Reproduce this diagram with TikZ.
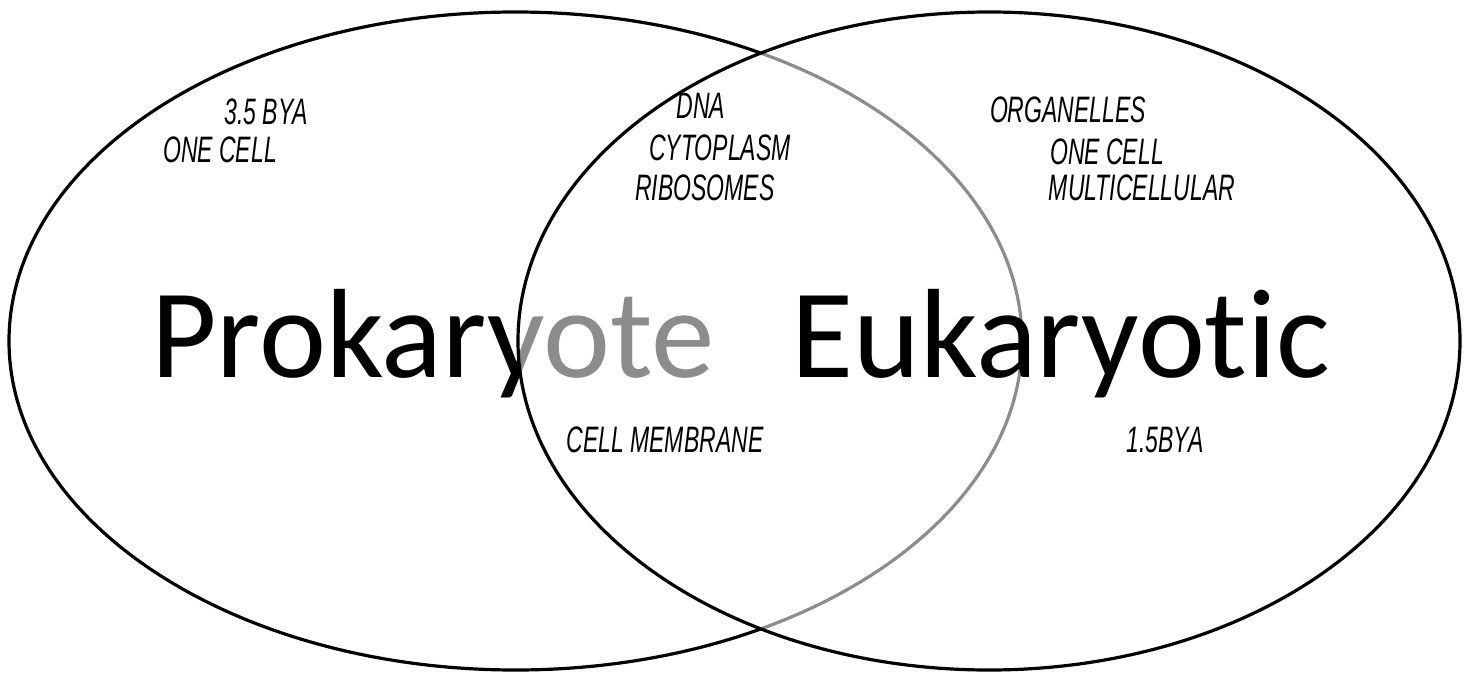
\documentclass[tikz,border=0pt]{standalone}
\usepackage{fontspec}
\usetikzlibrary{shapes.geometric}
\newfontfamily\titlefont[Ligatures=NoCommon]{Carlito}
\newfontfamily\handfont{Liberation Sans}
% tall, narrow capitals for the pencilled notes
\newcommand{\pencil}[1]{\scalebox{1}[1.6]{#1}}
\tikzset{
  venn/.style={ellipse, draw=black, line width=3.2pt, inner sep=0pt},
  bigword/.style={anchor=base, inner sep=0pt, font=\titlefont\fontsize{127}{140}\selectfont},
  hand/.style={inner sep=0pt, font=\handfont\itshape\fontsize{23}{26}\selectfont}
}
\begin{document}
\begin{tikzpicture}[x=1pt,y=-1pt]
\useasboundingbox (0,0) rectangle (1470,677);
\fill[white] (0,0) rectangle (1470,677);
% left set and its title
\node[venn, minimum width=1013pt, minimum height=658pt] (pro) at (515.5,341) {};
\node[bigword] (protitle) at (433,377) {Prokaryote};
% right set, washed white so what lies beneath shows grey
\node[venn, fill=white, fill opacity=0.55, text opacity=1, minimum width=942pt, minimum height=658pt] (euk) at (989,341) {};
\node[bigword] (euktitle) at (1061,377) {Eukaryotic};
% prokaryote-only notes
\node[hand] at (266,112) (p1) {\pencil{3.5 BYA}};
\node[hand] at (220,150) (p2) {\pencil{ONE CELL}};
% shared notes
\node[hand] at (701,106) (s1) {\pencil{DNA}};
\node[hand] at (720,148) (s2) {\pencil{CYTOPLASM}};
\node[hand] at (705,188) (s3) {\pencil{RIBOSOMES}};
\node[hand] at (665,440) (s4) {\pencil{CELL MEMBRANE}};
% eukaryote-only notes
\node[hand] at (1068,110) (e1) {\pencil{ORGANELLES}};
\node[hand] at (1107,152) (e2) {\pencil{ONE CELL}};
\node[hand] at (1142,188) (e3) {\pencil{MULTICELLULAR}};
\node[hand] at (1165,440) (e4) {\pencil{1.5BYA}};
\end{tikzpicture}
\end{document}
